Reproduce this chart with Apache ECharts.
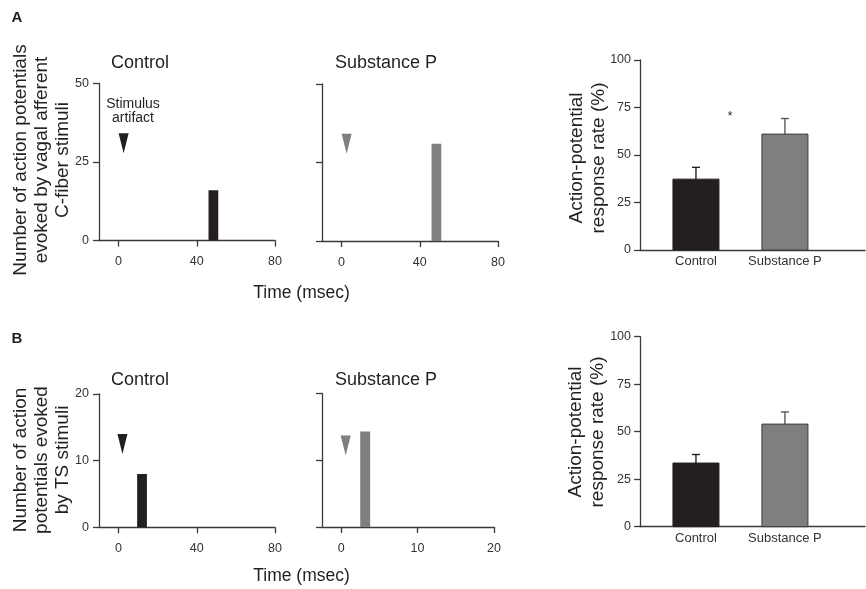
<!DOCTYPE html>
<html>
<head>
<meta charset="utf-8">
<script src="https://cdn.jsdelivr.net/npm/echarts@6/dist/echarts.min.js"></script>
<style>html,body{margin:0;padding:0;background:#fff}#c{width:866px;height:589px}</style>
</head>
<body>
<div id="c"></div>
<script>
// ---- data ----
// histogram bins: [start ms, end ms, count]
const binsAControl = [[46, 51, 16]];
const binsASubP = [[46, 51, 31]];
const binsBControl = [[9.5, 14.5, 8]];
const binsBSubP = [[2.5, 3.8, 14.3]];
// stimulus artifact markers: [time ms, level]
const artAControl = [[2.6, 31]];
const artASubP = [[2.6, 31]];
const artBControl = [[2, 12.5]];
const artBSubP = [[0.6, 12.2]];
// response rates
const groups = ['Control', 'Substance P'];
const rateA = [37.3, 61];
const errA = [6.2, 8.2];
const rateB = [33.5, 54];
const errB = [4.5, 6.4];
const ticksTimeLong = [0, 40, 80];
const ticksTimeShort = [0, 10, 20];

const FONT = 'Liberation Sans, Arial, sans-serif';
const BLACK = '#231f20';
const GRAY = '#7f7f7f';
const AXIS = '#3a3a3a';

const chart = echarts.init(document.getElementById('c'), null, {renderer: 'canvas'});

const grids = [
  {left: 99, top: 83.5, width: 176, height: 157},
  {left: 322, top: 84, width: 176, height: 157},
  {left: 640, top: 60, width: 225, height: 190},
  {left: 99, top: 394, width: 176, height: 133.3},
  {left: 322, top: 393.5, width: 172, height: 133.5},
  {left: 640, top: 336.7, width: 225, height: 190}
];

function timeAxis(gi, min, max, ticks, showLabel) {
  return {
    type: 'value', gridIndex: gi, min: min, max: max,
    splitLine: {show: false},
    axisLine: {lineStyle: {color: AXIS, width: 1.3}},
    axisTick: {show: true, length: 6, customValues: ticks, lineStyle: {color: AXIS, width: 1.3}},
    axisLabel: {show: showLabel, customValues: ticks, margin: 15, fontSize: 12.5, fontFamily: FONT, color: '#333'}
  };
}
function countAxis(gi, max, interval, showLabel) {
  return {
    type: 'value', gridIndex: gi, min: 0, max: max, interval: interval,
    splitLine: {show: false},
    axisLine: {show: true, onZero: false, lineStyle: {color: AXIS, width: 1.3}},
    axisTick: {show: true, length: 6, lineStyle: {color: AXIS, width: 1.3}},
    axisLabel: {show: showLabel, margin: 10, fontSize: 12.5, fontFamily: FONT, color: '#333'}
  };
}
function groupAxis(gi) {
  return {
    type: 'value', gridIndex: gi, min: 0.371, max: 2.9,
    splitLine: {show: false},
    axisLine: {lineStyle: {color: AXIS, width: 1.3}},
    axisTick: {show: false},
    axisLabel: {show: true, customValues: [1, 2], margin: 5, fontSize: 13, fontFamily: FONT, color: '#333',
      formatter: function (v) { return groups[Math.round(v) - 1] || ''; }}
  };
}
function rateAxis(gi) {
  return {
    type: 'value', gridIndex: gi, min: 0, max: 100, interval: 25,
    splitLine: {show: false},
    axisLine: {show: true, onZero: false, lineStyle: {color: AXIS, width: 1.3}},
    axisTick: {show: true, length: 6, lineStyle: {color: AXIS, width: 1.3}},
    axisLabel: {margin: 9, fontSize: 12.5, fontFamily: FONT, color: '#333'}
  };
}

function binSeries(gi, data, color) {
  return {
    type: 'custom', xAxisIndex: gi, yAxisIndex: gi, data: data,
    encode: {x: [0, 1], y: 2},
    renderItem: function (params, api) {
      const a = api.coord([api.value(0), 0]);
      const b = api.coord([api.value(1), api.value(2)]);
      return {type: 'rect', shape: {x: a[0], y: b[1], width: b[0] - a[0], height: a[1] - b[1]}, style: {fill: color}};
    }
  };
}
function artSeries(gi, data, color) {
  return {
    type: 'scatter', xAxisIndex: gi, yAxisIndex: gi, data: data,
    symbol: 'triangle', symbolRotate: 180, symbolSize: [10, 20],
    itemStyle: {color: color, opacity: 1}, silent: true
  };
}
function rateSeries(gi, vals, errs) {
  const data = vals.map(function (v, i) { return [i + 1, v, v + errs[i]]; });
  return {
    type: 'custom', xAxisIndex: gi, yAxisIndex: gi, data: data,
    encode: {x: 0, y: [1, 2]},
    renderItem: function (params, api) {
      const i = params.dataIndex;
      const color = i === 0 ? BLACK : GRAY;
      const line = i === 0 ? BLACK : '#5a5a5a';
      const base = api.coord([api.value(0), 0]);
      const top = api.coord([api.value(0), api.value(1)]);
      const err = api.coord([api.value(0), api.value(2)]);
      const w = 46;
      return {
        type: 'group',
        children: [
          {type: 'line', shape: {x1: top[0], y1: top[1], x2: err[0], y2: err[1]}, style: {stroke: line, lineWidth: 1.4}},
          {type: 'line', shape: {x1: err[0] - 4, y1: err[1], x2: err[0] + 4, y2: err[1]}, style: {stroke: line, lineWidth: 1.4}},
          {type: 'rect', shape: {x: base[0] - w / 2, y: top[1], width: w, height: base[1] - top[1]},
            style: {fill: color, stroke: i === 0 ? BLACK : '#3c3c3c', lineWidth: 1}}
        ]
      };
    }
  };
}

function txt(x, y, text, size, opts) {
  opts = opts || {};
  return {
    type: 'text', x: x, y: y, rotation: opts.rot || 0, silent: true,
    style: {text: text, font: (opts.bold ? 'bold ' : '') + size + 'px ' + FONT, fill: opts.fill || '#231f20',
      align: 'center', verticalAlign: 'middle', lineHeight: opts.lh || size}
  };
}

const option = {
  animation: false,
  backgroundColor: '#fff',
  grid: grids,
  xAxis: [
    timeAxis(0, -10, 80, ticksTimeLong, true),
    timeAxis(1, -10, 80, ticksTimeLong, true),
    groupAxis(2),
    timeAxis(3, -10, 80, ticksTimeLong, true),
    timeAxis(4, -2.5, 20, ticksTimeShort, true),
    groupAxis(5)
  ],
  yAxis: [
    countAxis(0, 50, 25, true),
    countAxis(1, 50, 25, false),
    rateAxis(2),
    countAxis(3, 20, 10, true),
    countAxis(4, 20, 10, false),
    rateAxis(5)
  ],
  series: [
    binSeries(0, binsAControl, BLACK),
    artSeries(0, artAControl, BLACK),
    binSeries(1, binsASubP, GRAY),
    artSeries(1, artASubP, GRAY),
    rateSeries(2, rateA, errA),
    binSeries(3, binsBControl, BLACK),
    artSeries(3, artBControl, BLACK),
    binSeries(4, binsBSubP, GRAY),
    artSeries(4, artBSubP, GRAY),
    rateSeries(5, rateB, errB)
  ],
  graphic: [
    txt(17, 18, 'A', 15, {bold: true}),
    txt(17, 339, 'B', 15, {bold: true}),
    txt(140, 63.5, 'Control', 18),
    txt(386, 63.5, 'Substance P', 18),
    txt(140, 380, 'Control', 18),
    txt(386, 380, 'Substance P', 18),
    txt(133, 111, 'Stimulus\nartifact', 14, {lh: 14}),
    txt(301.5, 293, 'Time (msec)', 17.5),
    txt(301.5, 576, 'Time (msec)', 17.5),
    txt(42, 160, 'Number of action potentials\nevoked by vagal afferent\nC-fiber stimuli', 19, {rot: Math.PI / 2, lh: 21}),
    txt(42, 460, 'Number of action\npotentials evoked\nby TS stimuli', 19, {rot: Math.PI / 2, lh: 21}),
    txt(588, 158, 'Action-potential\nresponse rate (%)', 19, {rot: Math.PI / 2, lh: 22}),
    txt(587, 432, 'Action-potential\nresponse rate (%)', 19, {rot: Math.PI / 2, lh: 22}),
    txt(730, 117, '*', 12)
  ]
};
chart.setOption(option);
</script>
</body>
</html>
